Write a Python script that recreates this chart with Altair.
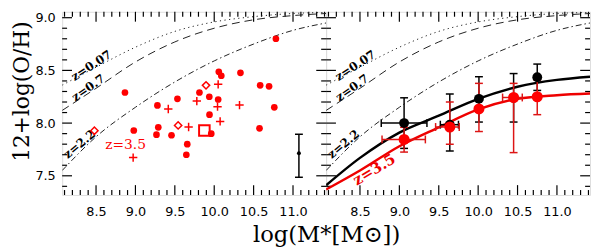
import altair as alt
import pandas as pd

# ---------------- values ----------------
X_DOMAIN = [8.07, 11.42]
Y_DOMAIN = [7.318, 9.056]
W, H = 268, 186

X_MAJOR = [8.5, 9.0, 9.5, 10.0, 10.5, 11.0]
X_MINOR = [8.1, 8.2, 8.3, 8.4, 8.6, 8.7, 8.8, 8.9, 9.1, 9.2, 9.3, 9.4, 9.6, 9.7,
           9.8, 9.9, 10.1, 10.2, 10.3, 10.4, 10.6, 10.7, 10.8, 10.9, 11.1, 11.2,
           11.3, 11.4]
Y_MAJOR = [7.5, 8.0, 8.5, 9.0]
Y_MINOR = [7.4, 7.6, 7.7, 7.8, 7.9, 8.1, 8.2, 8.3, 8.4, 8.6, 8.7, 8.8, 8.9]

# model curves
CURVE_X = [8.07, 8.5, 9.0, 9.5, 10.0, 10.5, 11.0, 11.42]
Z007 = [8.36, 8.53, 8.72, 8.87, 8.96, 9.01, 9.04, 9.05]
Z07 = [8.12, 8.33, 8.58, 8.77, 8.90, 8.98, 9.02, 9.04]
Z22 = [7.55, 7.87, 8.15, 8.39, 8.59, 8.75, 8.88, 8.95]
FIT_BLACK = [7.41, 7.67, 7.91, 8.07, 8.23, 8.345, 8.41, 8.44]
FIT_RED = [7.37, 7.55, 7.78, 7.96, 8.13, 8.23, 8.265, 8.28]

# left panel: individual galaxies
CIRC_X = [8.867, 8.979, 9.279, 9.29, 9.267, 9.458, 9.533, 9.658, 9.646, 9.8125,
          9.9375, 9.94, 9.9625, 10.05, 10.058, 10.09, 10.333, 10.583, 10.696,
          10.7625, 10.575, 10.783]
CIRC_Y = [8.29, 7.93, 8.168, 7.96, 7.89, 7.885, 8.23, 7.80, 7.70, 8.29, 8.25,
          8.08, 7.90, 8.224, 8.486, 8.449, 8.477, 8.358, 8.349, 8.15, 7.95, 8.80]
CROSS_X = [8.971, 9.417, 9.675, 9.779, 10.05, 10.042, 10.075, 10.321]
CROSS_Y = [7.673, 8.134, 7.963, 8.209, 8.368, 8.156, 8.016, 8.171]
DIAM_X = [8.479, 9.542, 9.896]
DIAM_Y = [7.928, 7.978, 8.358]
SQ_X = [9.875]
SQ_Y = [7.93]
ERR_X = [11.075]
ERR_Y = [7.713]
ERR_LO = [7.486]
ERR_HI = [7.894]

# right panel: binned values
BIN_X = [9.06, 9.64, 10.01, 10.45, 10.75]
BLK_Y = [8.00, 7.985, 8.23, 8.24, 8.435]
BLK_LO = [7.76, 7.735, 8.01, 8.01, 8.31]
BLK_HI = [8.24, 8.275, 8.44, 8.47, 8.56]
BLK_XLO = [8.77, 9.52, None, None, None]
BLK_XHI = [9.35, 9.75, None, None, None]
RED_Y = [7.845, 7.963, 8.134, 8.243, 8.25]
RED_LO = [7.725, 7.80, 7.92, 7.72, 8.08]
RED_HI = [7.96, 8.20, 8.377, 8.377, 8.41]
RED_XLO = [8.78, 9.46, None, 10.31, None]
RED_XHI = [9.33, 9.76, None, 10.56, None]

# labels (text, x, y, angle)
LBL_COMMON = [("z=0.07", 8.44, 8.545, 327), ("z=0.7", 8.40, 8.335, 325),
              ("z=2.2", 8.29, 7.80, 320)]

RED = "#ff0000"
RED_BAR = "#dd1515"
FONT_SANS = "DejaVu Sans"
FONT_SERIF = "DejaVu Serif"

xs = alt.Scale(domain=X_DOMAIN, nice=False, zero=False)
ys = alt.Scale(domain=Y_DOMAIN, nice=False, zero=False)

lab = dict(labelFont=FONT_SANS, labelFontSize=13, labelColor="black",
           labelFlush=False, labelOverlap=False, ticks=False, domain=False,
           grid=False, format=".1f")

xaxL = alt.Axis(values=X_MAJOR, labelPadding=11, title="log(M*[M⊙])",
                titleFont=FONT_SERIF, titleFontSize=23, titleFontWeight="normal",
                titleColor="black", titleX=268, titleY=40, titleAlign="center",
                titleBaseline="middle", **lab)
xaxR = alt.Axis(values=X_MAJOR, labelPadding=11, title=None, **lab)
yaxL = alt.Axis(values=Y_MAJOR, labelPadding=7, title="12+log(O/H)",
                titleFont=FONT_SERIF, titleFontSize=22, titleFontWeight="normal",
                titleColor="black", titleAngle=270, titleX=-41, titleY=80.5,
                titleAlign="center", titleBaseline="middle", **lab)


def panel(left):
    xax = xaxL if left else xaxR
    yax = yaxL if left else None

    def X(f):
        return alt.X(f, type="quantitative", scale=xs, axis=xax)

    def Y(f):
        return alt.Y(f, type="quantitative", scale=ys, axis=yax)

    layers = []
    # ticks on all four sides
    for vals, L in [(X_MAJOR, 10), (X_MINOR, 5)]:
        d = pd.DataFrame({"v": vals})
        layers.append(alt.Chart(d).mark_rule(color="black", strokeWidth=1.2).encode(
            x=X("v"), y=alt.value(H), y2=alt.value(H - L)))
        layers.append(alt.Chart(d).mark_rule(color="black", strokeWidth=1.2).encode(
            x=X("v"), y=alt.value(0), y2=alt.value(L)))
    for vals, L in [(Y_MAJOR, 10), (Y_MINOR, 5)]:
        d = pd.DataFrame({"v": vals})
        layers.append(alt.Chart(d).mark_rule(color="black", strokeWidth=1.2).encode(
            y=Y("v"), x=alt.value(0), x2=alt.value(L)))
        layers.append(alt.Chart(d).mark_rule(color="black", strokeWidth=1.2).encode(
            y=Y("v"), x=alt.value(W), x2=alt.value(W - L)))

    # model curves
    for ys_, dash in [(Z007, [1.2, 3.5]), (Z07, [8, 5]), (Z22, [6, 3, 1.5, 3])]:
        d = pd.DataFrame({"x": CURVE_X, "y": ys_})
        layers.append(alt.Chart(d).mark_line(color="#222222", strokeWidth=1,
                                             strokeDash=dash, interpolate="monotone",
                                             clip=True).encode(x=X("x"), y=Y("y")))
    for t, lx, ly, ang in LBL_COMMON:
        d = pd.DataFrame({"x": [lx], "y": [ly], "t": [t]})
        layers.append(alt.Chart(d).mark_text(font=FONT_SERIF, fontSize=12,
                                             fontWeight="bold", color="black",
                                             angle=ang).encode(
            x=X("x"), y=Y("y"), text="t:N"))

    if left:
        d = pd.DataFrame({"x": CIRC_X, "y": CIRC_Y})
        layers.append(alt.Chart(d).mark_point(shape="circle", filled=True, size=46,
                                              color=RED, opacity=1).encode(
            x=X("x"), y=Y("y")))
        d = pd.DataFrame({"x": CROSS_X, "y": CROSS_Y})
        layers.append(alt.Chart(d).mark_point(shape="M-1,0L1,0M0,-1L0,1", filled=False,
                                              size=72, strokeWidth=1.5, color=RED,
                                              opacity=1).encode(x=X("x"), y=Y("y")))
        d = pd.DataFrame({"x": DIAM_X, "y": DIAM_Y})
        layers.append(alt.Chart(d).mark_point(shape="diamond", filled=False, size=55,
                                              strokeWidth=1.5, color=RED,
                                              opacity=1).encode(x=X("x"), y=Y("y")))
        d = pd.DataFrame({"x": SQ_X, "y": SQ_Y})
        layers.append(alt.Chart(d).mark_point(shape="square", filled=False, size=115,
                                              strokeWidth=2, color=RED,
                                              opacity=1).encode(x=X("x"), y=Y("y")))
        d = pd.DataFrame({"x": ERR_X, "y": ERR_Y, "lo": ERR_LO, "hi": ERR_HI})
        layers.append(alt.Chart(d).mark_rule(color="black", strokeWidth=1.5).encode(
            x=X("x"), y=Y("lo"), y2="hi:Q"))
        caps = pd.DataFrame({"x": ERR_X * 2, "y": ERR_LO + ERR_HI})
        layers.append(alt.Chart(caps).mark_tick(orient="horizontal", size=8,
                                                thickness=1.5, color="black",
                                                opacity=1).encode(x=X("x"), y=Y("y")))
        layers.append(alt.Chart(d).mark_point(shape="circle", filled=True, size=16,
                                              color="black", opacity=1).encode(
            x=X("x"), y=Y("y")))
        d = pd.DataFrame({"x": [8.875], "y": [7.79], "t": ["z=3.5"]})
        layers.append(alt.Chart(d).mark_text(font=FONT_SERIF, fontSize=14,
                                             color=RED).encode(
            x=X("x"), y=Y("y"), text="t:N"))
    else:
        d = pd.DataFrame({"x": CURVE_X, "y": FIT_BLACK})
        layers.append(alt.Chart(d).mark_line(color="black", strokeWidth=2.5,
                                             interpolate="monotone", clip=True).encode(
            x=X("x"), y=Y("y")))
        d = pd.DataFrame({"x": CURVE_X, "y": FIT_RED})
        layers.append(alt.Chart(d).mark_line(color="#ee0000", strokeWidth=2.5,
                                             interpolate="monotone", clip=True).encode(
            x=X("x"), y=Y("y")))

        def bars(yv, lo, hi, xlo, xhi, col):
            out = []
            d = pd.DataFrame({"x": BIN_X, "y": yv, "lo": lo, "hi": hi})
            out.append(alt.Chart(d).mark_rule(color=col, strokeWidth=1.5).encode(
                x=X("x"), y=Y("lo"), y2="hi:Q"))
            caps = pd.DataFrame({"x": BIN_X * 2, "y": lo + hi})
            out.append(alt.Chart(caps).mark_tick(orient="horizontal", size=8,
                                                 thickness=1.5, color=col,
                                                 opacity=1).encode(x=X("x"), y=Y("y")))
            rows = [(a, b, c) for a, b, c in zip(yv, xlo, xhi) if b is not None]
            dx = pd.DataFrame({"y": [r[0] for r in rows], "xlo": [r[1] for r in rows],
                               "xhi": [r[2] for r in rows]})
            out.append(alt.Chart(dx).mark_rule(color=col, strokeWidth=1.5).encode(
                x=X("xlo"), x2="xhi:Q", y=Y("y")))
            xcaps = pd.DataFrame({"x": list(dx["xlo"]) + list(dx["xhi"]),
                                  "y": list(dx["y"]) * 2})
            out.append(alt.Chart(xcaps).mark_tick(orient="vertical", size=8,
                                                  thickness=1.5, color=col,
                                                  opacity=1).encode(x=X("x"), y=Y("y")))
            return out

        layers += bars(BLK_Y, BLK_LO, BLK_HI, BLK_XLO, BLK_XHI, "black")
        layers += bars(RED_Y, RED_LO, RED_HI, RED_XLO, RED_XHI, RED_BAR)
        d = pd.DataFrame({"x": BIN_X, "y": BLK_Y})
        layers.append(alt.Chart(d).mark_point(shape="circle", filled=True, size=100,
                                              color="black", opacity=1).encode(
            x=X("x"), y=Y("y")))
        d = pd.DataFrame({"x": BIN_X, "y": RED_Y})
        layers.append(alt.Chart(d).mark_point(shape="circle", filled=True, size=125,
                                              color=RED, opacity=1).encode(
            x=X("x"), y=Y("y")))
        d = pd.DataFrame({"x": [8.68], "y": [7.56], "t": ["z=3.5"]})
        layers.append(alt.Chart(d).mark_text(font=FONT_SERIF, fontSize=15,
                                             fontWeight="bold", color="#ee0000",
                                             angle=329).encode(
            x=X("x"), y=Y("y"), text="t:N"))

    return alt.layer(*layers).properties(width=W, height=H)


chart = alt.hconcat(panel(True), panel(False), spacing=0, bounds="flush").properties(
    padding={"left": 2, "top": 0, "right": 0, "bottom": 0}
).configure_view(stroke="black", strokeWidth=1.5).configure(background="white")

chart.save("out.html", embed_options={"renderer": "svg", "actions": False})
